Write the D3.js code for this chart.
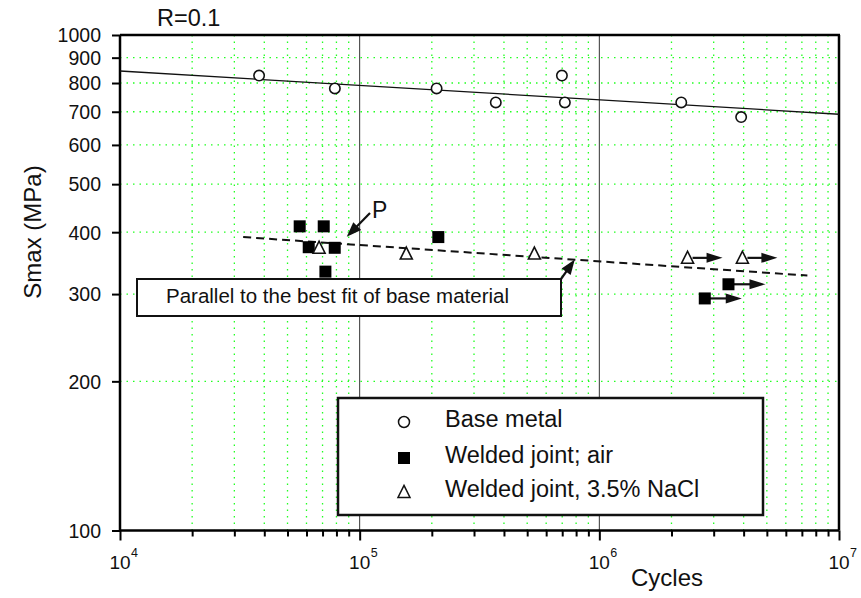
<!DOCTYPE html>
<html><head><meta charset="utf-8">
<script src="https://cdn.jsdelivr.net/npm/d3@7/dist/d3.min.js"></script>
<style>
body{margin:0;background:#fff;}
svg{display:block;font-family:"Liberation Sans",Arial,sans-serif;}
</style></head>
<body>
<svg id="chart" width="861" height="598"></svg>
<script>
// ---- data ----
const baseN = [38050, 78800, 209400, 369800, 698000, 718000, 2197000, 3906000];
const baseS = [828, 780, 780, 731, 828, 731, 731, 683];
const airN = [56200, 70800, 61300, 78700, 71950, 212900, 3458000, 2754000];
const airS = [411, 411, 373, 372, 333, 391, 314, 294];
const airRunout = [false, false, false, false, false, false, true, true];
const naclN = [67700, 156500, 535800, 2334000, 3953000];
const naclS = [372, 362, 362, 355, 355];
const naclRunout = [false, false, false, true, true];
const baseFitN = [1e4, 1e7];
const baseFitS = [846, 692];
const parallelN = [32650, 7380000];
const parallelS = [391, 327];
const yTicks = [100, 200, 300, 400, 500, 600, 700, 800, 900, 1000];
const xMajor = [1e4, 1e5, 1e6, 1e7];
const xExp = ["4", "5", "6", "7"];
const legendLabels = ["Base metal", "Welded joint; air", "Welded joint, 3.5% NaCl"];
const title = "R=0.1";
const xTitle = "Cycles";
const yTitle = "Smax (MPa)";
const noteText = "Parallel to the best fit of base material";
const pPoint = [78700, 372]; // point labelled P
const noteTarget = [790000, 354]; // point on dashed line pointed to

// ---- layout ----
const svg = d3.select("#chart");
const L = 120, R = 839, T = 35, B = 530.5;
const x = d3.scaleLog().domain([1e4, 1e7]).range([L, R]);
const y = d3.scaleLog().domain([100, 1000]).range([B, T]);

const xMinor = [];
for (let e = 4; e < 7; e++) for (let k = 2; k <= 9; k++) xMinor.push(k * Math.pow(10, e));

const GREEN = "#22ff22";
// grid
const grid = svg.append("g");
grid.selectAll(".vg").data(xMinor).enter().append("line")
  .attr("x1", d => x(d)).attr("x2", d => x(d)).attr("y1", T).attr("y2", B)
  .attr("stroke", GREEN).attr("stroke-width", 1.3).attr("stroke-dasharray", "1.5,5");
grid.selectAll(".hg").data(yTicks.filter(d => d > 100 && d < 1000)).enter().append("line")
  .attr("y1", d => y(d)).attr("y2", d => y(d)).attr("x1", L).attr("x2", R)
  .attr("stroke", GREEN).attr("stroke-width", 1.3).attr("stroke-dasharray", "1.5,5");
grid.selectAll(".mg").data([1e5, 1e6]).enter().append("line")
  .attr("x1", d => x(d)).attr("x2", d => x(d)).attr("y1", T).attr("y2", B)
  .attr("stroke", "#333").attr("stroke-width", 1);

// frame
svg.append("line").attr("x1", L).attr("x2", R + 1).attr("y1", T).attr("y2", T).attr("stroke", "#000").attr("stroke-width", 2.5);
svg.append("line").attr("x1", R).attr("x2", R).attr("y1", T).attr("y2", B).attr("stroke", "#000").attr("stroke-width", 2.5);

// y axis
const yAxis = d3.axisLeft(y).tickValues(yTicks).tickFormat(d3.format("d")).tickSize(8).tickPadding(11);
const gy = svg.append("g").attr("transform", `translate(${L},0)`).call(yAxis);
gy.select(".domain").attr("stroke-width", 2.5).attr("d", `M0,${T}V${B}`);
gy.selectAll(".tick line").attr("stroke-width", 2);
gy.selectAll(".tick text").attr("font-size", 19.5).attr("fill", "#111").attr("dy", "0.35em")
  .attr("font-family", "Liberation Sans, Arial, sans-serif");

// x axis
const xAxisMinor = d3.axisBottom(x).tickValues(xMinor).tickSize(6).tickFormat("");
const gxm = svg.append("g").attr("transform", `translate(0,${B})`).call(xAxisMinor);
gxm.select(".domain").attr("stroke-width", 2.5).attr("d", `M${L},0H${R}`);
gxm.selectAll(".tick line").attr("stroke-width", 2);
const xAxisMajor = d3.axisBottom(x).tickValues(xMajor).tickSize(10).tickFormat("");
const gxM = svg.append("g").attr("transform", `translate(0,${B})`).call(xAxisMajor);
gxM.select(".domain").remove();
gxM.selectAll(".tick line").attr("stroke-width", 2);
const xl = svg.append("g");
xMajor.forEach((v, i) => {
  xl.append("text").attr("x", x(v)).attr("y", 569).attr("text-anchor", "middle")
    .attr("font-size", 19).attr("fill", "#111").text("10");
  xl.append("text").attr("x", x(v) + 11).attr("y", 557).attr("text-anchor", "start")
    .attr("font-size", 12.5).attr("fill", "#111").text(xExp[i]);
});

// titles
svg.append("text").attr("x", 157).attr("y", 26).attr("font-size", 23.5).attr("fill", "#111").text(title);
svg.append("text").attr("x", 667).attr("y", 586).attr("text-anchor", "middle").attr("font-size", 24).attr("fill", "#111").text(xTitle);
svg.append("text").attr("transform", "translate(41,232) rotate(-90)").attr("text-anchor", "middle")
  .attr("font-size", 24).attr("fill", "#111").text(yTitle);

// fit lines
const line = d3.line().x(d => x(d[0])).y(d => y(d[1]));
svg.append("path").datum(d3.zip(baseFitN, baseFitS)).attr("d", line)
  .attr("fill", "none").attr("stroke", "#111").attr("stroke-width", 1.3);
svg.append("path").datum(d3.zip(parallelN, parallelS)).attr("d", line)
  .attr("fill", "none").attr("stroke", "#111").attr("stroke-width", 2).attr("stroke-dasharray", "8,5");

// arrow helper
function arrow(g, x1, y1, x2, y2, headLen, headW, sw) {
  const a = Math.atan2(y2 - y1, x2 - x1);
  const bx = x2 - headLen * Math.cos(a), by = y2 - headLen * Math.sin(a);
  g.append("line").attr("x1", x1).attr("y1", y1).attr("x2", bx + 2 * Math.cos(a)).attr("y2", by + 2 * Math.sin(a))
    .attr("stroke", "#111").attr("stroke-width", sw);
  const px = -Math.sin(a) * headW, py = Math.cos(a) * headW;
  g.append("path").attr("d", `M${x2},${y2}L${bx + px},${by + py}L${bx - px},${by - py}Z`).attr("fill", "#111");
}

// runout arrows
const arr = svg.append("g");
airN.forEach((n, i) => { if (airRunout[i]) arrow(arr, x(n) + 5, y(airS[i]), x(n) + 37, y(airS[i]), 16, 5, 2.2); });
naclN.forEach((n, i) => { if (naclRunout[i]) arrow(arr, x(n) + 5, y(naclS[i]), x(n) + 35, y(naclS[i]), 16, 5, 2.2); });

// markers
const tri = (cx, cy, s) => `M${cx},${cy - s * 0.55}L${cx + s / 2},${cy + s * 0.45}L${cx - s / 2},${cy + s * 0.45}Z`;
svg.append("g").selectAll("circle").data(d3.zip(baseN, baseS)).enter().append("circle")
  .attr("cx", d => x(d[0])).attr("cy", d => y(d[1])).attr("r", 5.2)
  .attr("fill", "#fff").attr("stroke", "#111").attr("stroke-width", 1.6);
svg.append("g").selectAll("rect").data(d3.zip(airN, airS)).enter().append("rect")
  .attr("x", d => x(d[0]) - 6).attr("y", d => y(d[1]) - 6).attr("width", 12).attr("height", 12).attr("fill", "#000");
svg.append("g").selectAll("path").data(d3.zip(naclN, naclS)).enter().append("path")
  .attr("d", d => tri(x(d[0]), y(d[1]), 12))
  .attr("fill", "#fff").attr("stroke", "#111").attr("stroke-width", 1.6);

// P label
const ann = svg.append("g");
arrow(ann, 370, 213, x(pPoint[0]) + 12, y(pPoint[1]) - 11, 15, 5.5, 2.2);
ann.append("text").attr("x", 372).attr("y", 218).attr("font-size", 23).attr("fill", "#111").text("P");

// note box
ann.append("rect").attr("x", 137).attr("y", 279).attr("width", 424).attr("height", 37)
  .attr("fill", "#fff").attr("stroke", "#111").attr("stroke-width", 2);
ann.append("text").attr("x", 166).attr("y", 302.5).attr("font-size", 20.5).attr("fill", "#111").text(noteText);
arrow(ann, 561, 279, x(noteTarget[0]), y(noteTarget[1]) + 1, 15, 5.5, 2.2);

// legend
const lg = svg.append("g");
lg.append("rect").attr("x", 338).attr("y", 398).attr("width", 425).attr("height", 117)
  .attr("fill", "#fff").attr("stroke", "#111").attr("stroke-width", 2.5);
const ly = [422, 458, 492];
lg.append("circle").attr("cx", 404).attr("cy", ly[0]).attr("r", 5.5).attr("fill", "#fff").attr("stroke", "#111").attr("stroke-width", 1.5);
lg.append("rect").attr("x", 398).attr("y", ly[1] - 6).attr("width", 12).attr("height", 12).attr("fill", "#000");
lg.append("path").attr("d", tri(404, ly[2], 12)).attr("fill", "#fff").attr("stroke", "#111").attr("stroke-width", 1.5);
legendLabels.forEach((t, i) => {
  lg.append("text").attr("x", 445).attr("y", ly[i] + 4.5 + (i === 0 ? 0 : 0.5)).attr("font-size", 23.5).attr("fill", "#111")
    .text(t);
});
</script>
</body></html>
